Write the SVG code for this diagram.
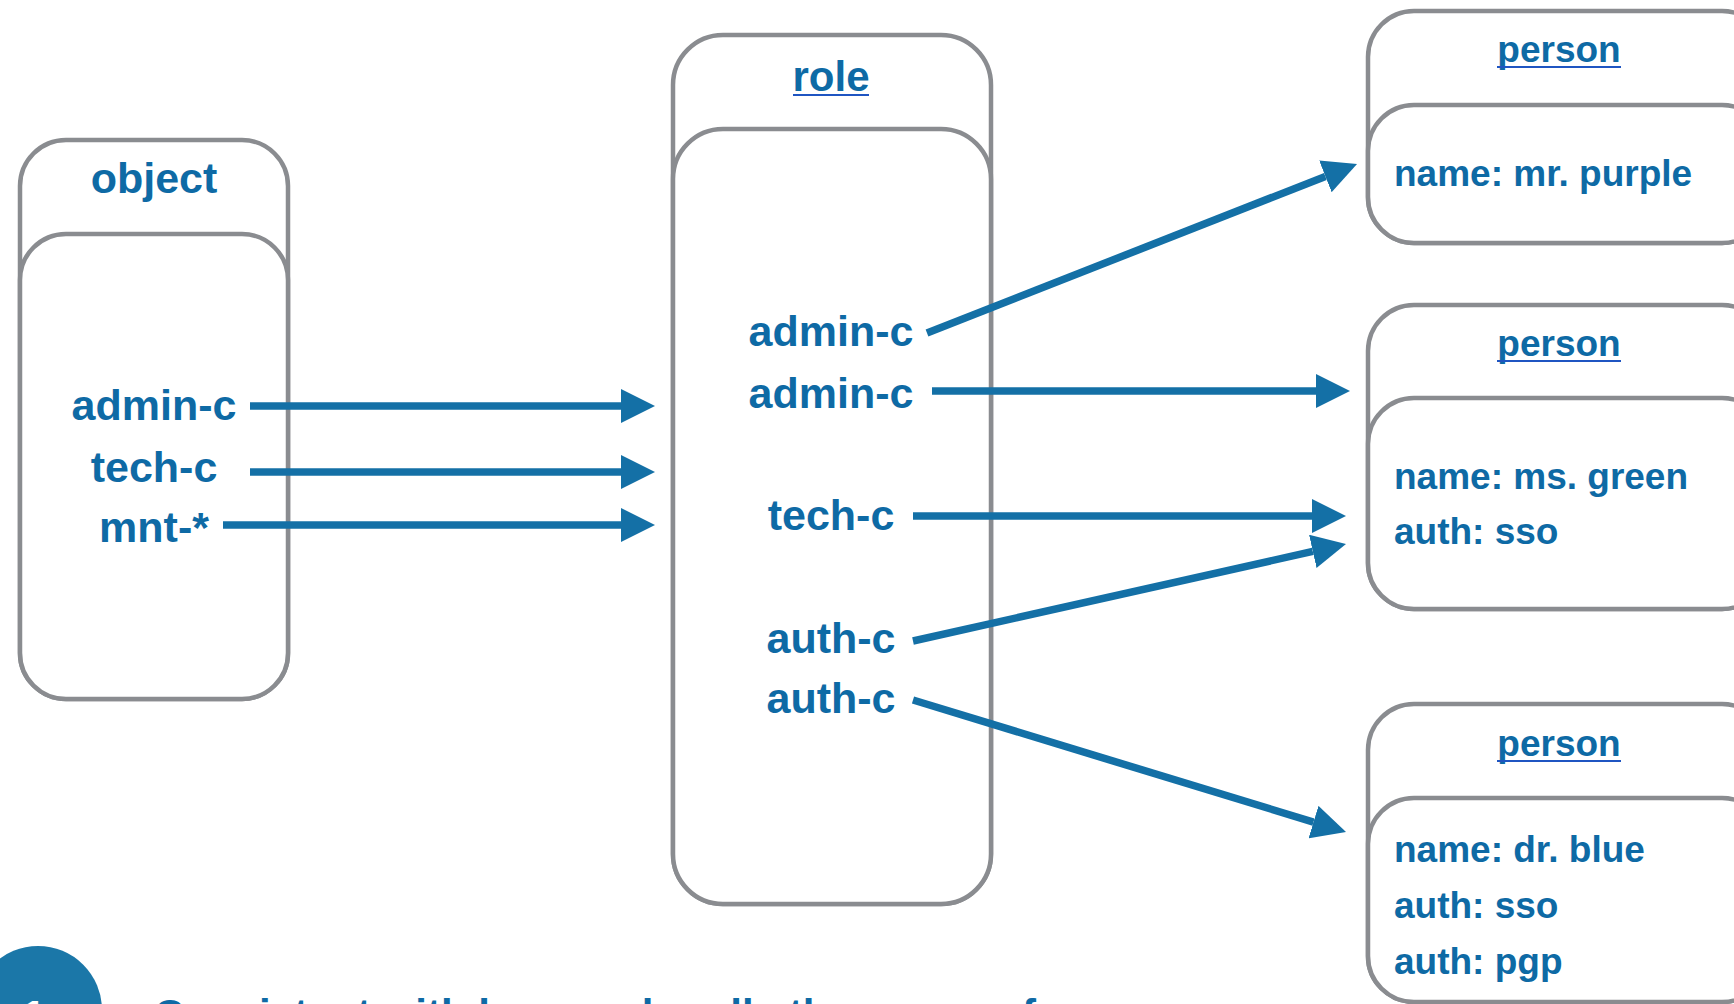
<svg xmlns="http://www.w3.org/2000/svg" width="1734" height="1004" viewBox="0 0 1734 1004">
<style>
.box{fill:#ffffff;stroke:#8a8c90;stroke-width:4.5}
.t{font-family:"Liberation Sans",Arial,sans-serif;font-weight:bold;fill:#0e6aa5}
.big{font-size:43px}
.mid{font-size:42px}
.sm{font-size:37px}
.c{text-anchor:middle}
.ul{stroke:#1f55c2;stroke-width:2}
.conn{stroke:#1470a6;stroke-width:7.5;fill:none;marker-end:url(#ah)}
</style>
<defs>
<marker id="ah" markerUnits="userSpaceOnUse" viewBox="0 -17 34 34" markerWidth="34" markerHeight="34" refX="0" refY="0" orient="auto">
<path d="M0,-17 L34,0 L0,17 Z" fill="#1470a6"/>
</marker>
</defs>
<rect width="1734" height="1004" fill="#ffffff"/>

<g id="object">
<rect class="box" x="20" y="140" width="268" height="559" rx="46"/>
<rect class="box" x="20" y="234" width="268" height="465" rx="46"/>
<text class="t big c" x="154" y="193">object</text>
<text class="t big c" x="154" y="420">admin-c</text>
<text class="t big c" x="154" y="482">tech-c</text>
<text class="t big c" x="154" y="542">mnt-*</text>
</g>

<g id="role">
<rect class="box" x="673" y="35" width="318" height="869" rx="50"/>
<rect class="box" x="673" y="129" width="318" height="775" rx="50"/>
<text class="t mid c" x="831" y="91">role</text>
<line class="ul" x1="793" y1="95" x2="869" y2="95"/>
<text class="t big c" x="831" y="346">admin-c</text>
<text class="t big c" x="831" y="408">admin-c</text>
<text class="t big c" x="831" y="530">tech-c</text>
<text class="t big c" x="831" y="653">auth-c</text>
<text class="t big c" x="831" y="713">auth-c</text>
</g>

<g id="person1">
<rect class="box" x="1368" y="11" width="400" height="232" rx="46"/>
<rect class="box" x="1368" y="105" width="400" height="138" rx="46"/>
<text class="t sm c" x="1559" y="62">person</text>
<line class="ul" x1="1497" y1="67" x2="1621" y2="67"/>
<text class="t sm" x="1394" y="186">name: mr. purple</text>
</g>

<g id="person2">
<rect class="box" x="1368" y="305" width="400" height="304" rx="46"/>
<rect class="box" x="1368" y="398" width="400" height="211" rx="46"/>
<text class="t sm c" x="1559" y="356">person</text>
<line class="ul" x1="1497" y1="361" x2="1621" y2="361"/>
<text class="t sm" x="1394" y="489">name: ms. green</text>
<text class="t sm" x="1394" y="544">auth: sso</text>
</g>

<g id="person3">
<rect class="box" x="1368" y="704" width="400" height="298" rx="46"/>
<rect class="box" x="1368" y="798" width="400" height="204" rx="46"/>
<text class="t sm c" x="1559" y="756">person</text>
<line class="ul" x1="1497" y1="761" x2="1621" y2="761"/>
<text class="t sm" x="1394" y="862">name: dr. blue</text>
<text class="t sm" x="1394" y="918">auth: sso</text>
<text class="t sm" x="1394" y="974">auth: pgp</text>
</g>

<g id="connectors">
<path class="conn" d="M250,406 L621,406"/>
<path class="conn" d="M250,472 L621,472"/>
<path class="conn" d="M223,525 L621,525"/>
<path class="conn" d="M927,333 L1325.4,176.4"/>
<path class="conn" d="M932,391 L1316,391"/>
<path class="conn" d="M913,516 L1312,516"/>
<path class="conn" d="M913,641 L1312.8,551.4"/>
<path class="conn" d="M913,700 L1313.5,822.1"/>
</g>

<g id="footer">
<circle cx="38" cy="1010" r="64" fill="#1b77a8"/>
<text class="big c" x="34" y="1030" style="font-family:'Liberation Sans',Arial,sans-serif;font-weight:bold;fill:#ffffff">1</text>
<text class="t mid" x="154" y="1029">Consistent with how we handle the usage of</text>
</g>
</svg>
